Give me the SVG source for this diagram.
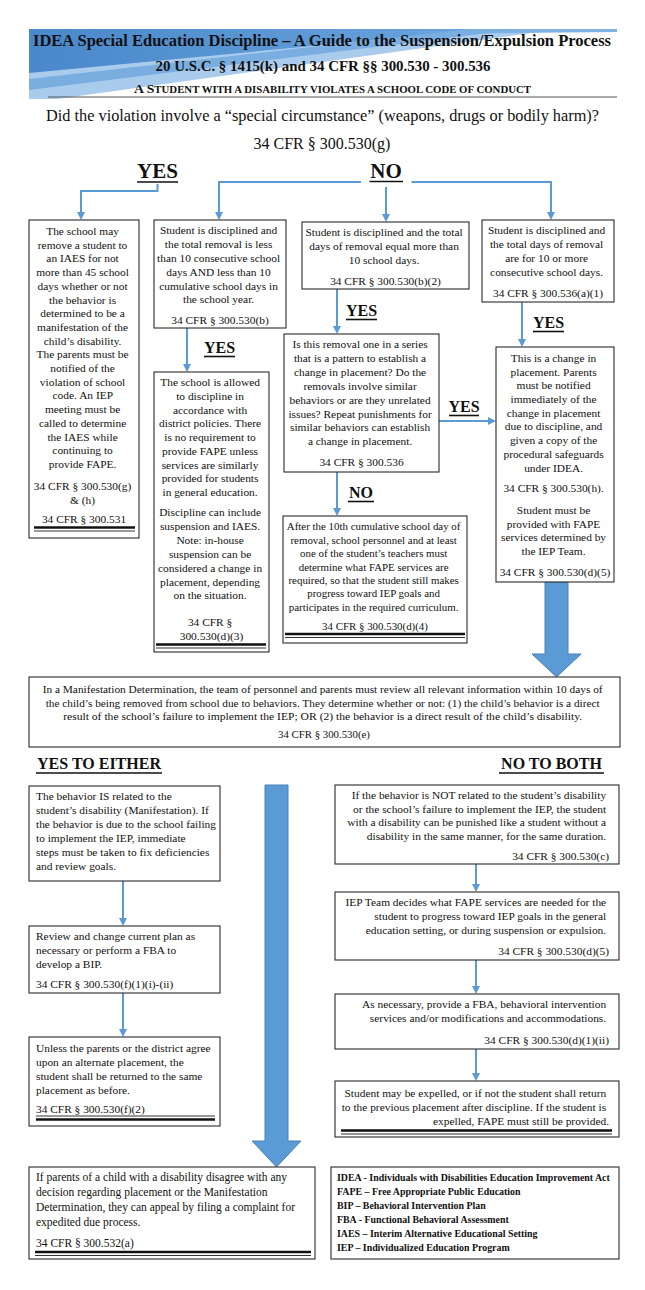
<svg xmlns="http://www.w3.org/2000/svg" width="645" height="1290" viewBox="0 0 645 1290">
<defs>
<marker id="ah" markerUnits="userSpaceOnUse" markerWidth="9" markerHeight="9" refX="3" refY="4" orient="auto"><path d="M0,0 L8,4 L0,8 z" fill="#5b9bd5"/></marker>
<linearGradient id="gDark" x1="0" y1="0" x2="1" y2="0"><stop offset="0" stop-color="#4a88cb"/><stop offset="1" stop-color="#6aa5dd"/></linearGradient>
</defs>
<style>
text{font-family:"Liberation Serif","Times New Roman",serif;fill:#111}
.t{font-size:11.4px}
.s{font-size:10.9px}
.m{text-anchor:middle}
.e{text-anchor:end}
.bx{fill:#fff;stroke:#2a2a2a;stroke-width:1.1}
.cn{fill:none;stroke:#5b9bd5;stroke-width:2;marker-end:url(#ah)}
.lb{font-weight:bold;text-anchor:middle}
.ul{stroke:#111;stroke-width:1.6}
.dk{stroke:#111;stroke-width:2.6}
.dt{stroke:#333;stroke-width:1}
.big{fill:#5b9bd5;stroke:#4a80b8;stroke-width:1}
</style>
<rect width="645" height="1290" fill="#fff"/>

<g id="header">
<rect x="29" y="29" width="588" height="70" fill="#fff"/>
<polygon points="29,29 560,29 57,99 29,99" fill="#a9cbec"/>
<polygon points="29,29 617,29 617,32 29,38" fill="#7fb0e2"/>
<polygon points="29,29 491,29 29,73" fill="url(#gDark)"/>
<polygon points="29,79 470,29 520,29 29,90" fill="#7aaee0"/>
<text x="33" y="46" font-size="16.5" font-weight="bold" textLength="578" lengthAdjust="spacingAndGlyphs">IDEA Special Education Discipline – A Guide to the Suspension/Expulsion Process</text>
<text x="155.5" y="71" font-size="14" font-weight="bold" textLength="335" lengthAdjust="spacingAndGlyphs">20 U.S.C. § 1415(k) and 34 CFR §§ 300.530 - 300.536</text>
<text x="134" y="93" font-weight="bold" textLength="397" lengthAdjust="spacingAndGlyphs"><tspan font-size="12">A S</tspan><tspan font-size="9.4">TUDENT WITH A DISABILITY VIOLATES A SCHOOL CODE OF CONDUCT</tspan></text>
<line x1="48" y1="97" x2="617" y2="97" stroke="#555" stroke-width="1.2"/>
</g>

<g id="question">
<text x="46" y="121" font-size="16.5" textLength="553" lengthAdjust="spacingAndGlyphs">Did the violation involve a “special circumstance” (weapons, drugs or bodily harm)?</text>
<text x="322" y="149" font-size="16" text-anchor="middle">34 CFR § 300.530(g)</text>
</g>

<g id="labels">
<text class="lb" x="157.5" y="178" font-size="21">YES</text>
<line class="ul" x1="137" y1="182" x2="178" y2="182"/>
<text class="lb" x="386" y="178" font-size="21">NO</text>
<line class="ul" x1="369.5" y1="181.5" x2="403" y2="181.5"/>
<text class="lb" x="219.5" y="353" font-size="16">YES</text>
<line class="ul" x1="204" y1="356.5" x2="235" y2="356.5"/>
<text class="lb" x="361.5" y="316" font-size="16">YES</text>
<line class="ul" x1="346" y1="319.5" x2="377" y2="319.5"/>
<text class="lb" x="464" y="412" font-size="16">YES</text>
<line class="ul" x1="449" y1="415.5" x2="479" y2="415.5"/>
<text class="lb" x="548.5" y="328" font-size="16">YES</text>
<line class="ul" x1="533" y1="331.5" x2="564" y2="331.5"/>
<text class="lb" x="361" y="498" font-size="16">NO</text>
<line class="ul" x1="348" y1="501.5" x2="374" y2="501.5"/>
<text class="lb" x="99" y="769" font-size="16">YES TO EITHER</text>
<line class="ul" x1="36" y1="773" x2="162" y2="773"/>
<text class="lb" x="551.5" y="769" font-size="16">NO TO BOTH</text>
<line class="ul" x1="499" y1="773" x2="604" y2="773"/>
</g>

<g id="connectors">
<path class="cn" d="M157.5,184 V191 H81 V215"/>
<path class="cn" d="M361,182 H219 V215"/>
<path class="cn" d="M386,187 V217"/>
<path class="cn" d="M411.5,182 H551 V215"/>
<path class="cn" d="M187,328 V367"/>
<path class="cn" d="M337,289 V329"/>
<path class="cn" d="M439,421 H491"/>
<path class="cn" d="M522,302 V342"/>
<path class="cn" d="M337,472 V511"/>
<path class="cn" d="M123,881 V921"/>
<path class="cn" d="M123,993 V1032"/>
<path class="cn" d="M476,864 V887"/>
<path class="cn" d="M476,960 V989"/>
<path class="cn" d="M476,1049 V1076"/>
<polygon class="big" points="545,582 568,582 568,654 581,654 556.5,677 532,654 545,654"/>
<polygon class="big" points="265,785 288,785 288,1141 301,1141 276.5,1167 252,1141 265,1141"/>
</g>

<g id="n-special">
<rect class="bx" x="29" y="220" width="110" height="318"/>
<text class="t m">
<tspan x="84" y="235">The school may</tspan>
<tspan x="84" y="248.7">remove a student to</tspan>
<tspan x="84" y="262.4">an IAES for not</tspan>
<tspan x="84" y="276.1">more than 45 school</tspan>
<tspan x="84" y="289.8">days whether or not</tspan>
<tspan x="84" y="303.5">the behavior is</tspan>
<tspan x="84" y="317.2">determined to be a</tspan>
<tspan x="84" y="330.9">manifestation of the</tspan>
<tspan x="84" y="344.6">child’s disability.</tspan>
<tspan x="84" y="358.3">The parents must be</tspan>
<tspan x="84" y="372">notified of the</tspan>
<tspan x="84" y="385.7">violation of school</tspan>
<tspan x="84" y="399.4">code. An IEP</tspan>
<tspan x="84" y="413.1">meeting must be</tspan>
<tspan x="84" y="426.8">called to determine</tspan>
<tspan x="84" y="440.5">the IAES while</tspan>
<tspan x="84" y="454.2">continuing to</tspan>
<tspan x="84" y="467.9">provide FAPE.</tspan>
<tspan x="84" y="490">34 CFR § 300.530(g)</tspan>
<tspan x="84" y="503.5">&amp; (h)</tspan>
<tspan x="84" y="522.5">34 CFR § 300.531</tspan>
</text>
<line class="dk" x1="34" y1="527.5" x2="135" y2="527.5"/>
<line class="dt" x1="34" y1="531" x2="135" y2="531"/>
</g>

<g id="n-less10">
<rect class="bx" x="154" y="220" width="132" height="108"/>
<text class="t m">
<tspan x="220" y="234">Student is disciplined and</tspan>
<tspan x="220" y="248">the total removal is less</tspan>
<tspan x="220" y="262">than 10 consecutive school</tspan>
<tspan x="220" y="275.7">days AND less than 10</tspan>
<tspan x="220" y="289.5">cumulative school days in</tspan>
<tspan x="220" y="303.3">the school year.</tspan>
<tspan x="220" y="324">34 CFR § 300.530(b)</tspan>
</text>
</g>

<g id="n-allowed">
<rect class="bx" x="154" y="372" width="115" height="280"/>
<text class="t m">
<tspan x="211.5" y="386">The school is allowed</tspan>
<tspan x="211.5" y="400">to discipline in</tspan>
<tspan x="211.5" y="413.5">accordance with</tspan>
<tspan x="211.5" y="427">district policies. There</tspan>
<tspan x="211.5" y="441">is no requirement to</tspan>
<tspan x="211.5" y="455">provide FAPE unless</tspan>
<tspan x="211.5" y="468.5">services are similarly</tspan>
<tspan x="211.5" y="482">provided for students</tspan>
<tspan x="211.5" y="496">in general education.</tspan>
<tspan x="211.5" y="516">Discipline can include</tspan>
<tspan x="211.5" y="530">suspension and IAES.</tspan>
<tspan x="211.5" y="544">Note: in-house</tspan>
<tspan x="211.5" y="558">suspension can be</tspan>
<tspan x="211.5" y="572">considered a change in</tspan>
<tspan x="211.5" y="585.5">placement, depending</tspan>
<tspan x="211.5" y="599">on the situation.</tspan>
<tspan x="211.5" y="626">34 CFR §</tspan>
<tspan x="211.5" y="640">300.530(d)(3)</tspan>
</text>
<line class="dk" x1="156" y1="644.5" x2="266" y2="644.5"/>
<line class="dt" x1="156" y1="648" x2="266" y2="648"/>
</g>

<g id="n-more10">
<rect class="bx" x="302" y="222" width="167" height="67"/>
<text class="t m">
<tspan x="385.5" y="236">Student is disciplined and the total</tspan>
<tspan x="385.5" y="250">days of removal equal more than</tspan>
<tspan x="385.5" y="263.5">10 school days.</tspan>
<tspan x="385.5" y="285">34 CFR § 300.530(b)(2)</tspan>
</text>
</g>

<g id="n-series">
<rect class="bx" x="284" y="334" width="155" height="138"/>
<text class="t m">
<tspan x="361.5" y="348">Is this removal one in a series</tspan>
<tspan x="361.5" y="362">that is a pattern to establish a</tspan>
<tspan x="361.5" y="376">change in placement? Do the</tspan>
<tspan x="361.5" y="390">removals involve similar</tspan>
<tspan x="361.5" y="403.5">behaviors or are they unrelated</tspan>
<tspan x="361.5" y="417.5">issues? Repeat punishments for</tspan>
<tspan x="361.5" y="431">similar behaviors can establish</tspan>
<tspan x="361.5" y="445">a change in placement.</tspan>
<tspan x="361.5" y="466">34 CFR § 300.536</tspan>
</text>
</g>

<g id="n-after10">
<rect class="bx" x="283" y="516" width="184" height="127"/>
<text class="s m">
<tspan x="375" y="530">After the 10th cumulative school day of</tspan>
<tspan x="375" y="543.5">removal, school personnel and at least</tspan>
<tspan x="375" y="557">one of the student’s teachers must</tspan>
<tspan x="375" y="570.5">determine what FAPE services are</tspan>
<tspan x="375" y="583.5">required, so that the student still makes</tspan>
<tspan x="375" y="597">progress toward IEP goals and</tspan>
<tspan x="375" y="610.5">participates in the required curriculum.</tspan>
<tspan x="375" y="629.5">34 CFR § 300.530(d)(4)</tspan>
</text>
<line class="dk" x1="285" y1="634" x2="465" y2="634"/>
<line class="dt" x1="285" y1="637.5" x2="465" y2="637.5"/>
</g>

<g id="n-consec10">
<rect class="bx" x="482" y="220" width="132" height="82"/>
<text class="t m">
<tspan x="548" y="234">Student is disciplined and</tspan>
<tspan x="548" y="248">the total days of removal</tspan>
<tspan x="548" y="262">are for 10 or more</tspan>
<tspan x="548" y="276">consecutive school days.</tspan>
<tspan x="548" y="297">34 CFR § 300.536(a)(1)</tspan>
</text>
</g>

<g id="n-change">
<rect class="bx" x="496" y="347" width="118" height="235"/>
<text class="t m">
<tspan x="555" y="362">This is a change in</tspan>
<tspan x="555" y="376">placement. Parents</tspan>
<tspan x="555" y="389">must be notified</tspan>
<tspan x="555" y="402.5">immediately of the</tspan>
<tspan x="555" y="417">change in placement</tspan>
<tspan x="555" y="430">due to discipline, and</tspan>
<tspan x="555" y="444">given a copy of the</tspan>
<tspan x="555" y="457.5">procedural safeguards</tspan>
<tspan x="555" y="471.5">under IDEA.</tspan>
<tspan x="555" y="492">34 CFR § 300.530(h).</tspan>
<tspan x="555" y="514">Student must be</tspan>
<tspan x="555" y="527.5">provided with FAPE</tspan>
<tspan x="555" y="541">services determined by</tspan>
<tspan x="555" y="554.5">the IEP Team.</tspan>
<tspan x="555" y="576">34 CFR § 300.530(d)(5)</tspan>
</text>
</g>

<g id="n-manifest">
<rect class="bx" x="29" y="677" width="591" height="70"/>
<text font-size="10.8" text-anchor="middle">
<tspan x="324" y="693" textLength="560" lengthAdjust="spacingAndGlyphs">In a Manifestation Determination, the team of personnel and parents must review all relevant information within 10 days of</tspan>
<tspan x="324" y="706.5" textLength="554" lengthAdjust="spacingAndGlyphs">the child’s being removed from school due to behaviors. They determine whether or not: (1) the child’s behavior is a direct</tspan>
<tspan x="324" y="720" textLength="519" lengthAdjust="spacingAndGlyphs">result of the school’s failure to implement the IEP; OR (2) the behavior is a direct result of the child’s disability.</tspan>
<tspan x="324" y="737.5">34 CFR § 300.530(e)</tspan>
</text>
</g>

<g id="n-related">
<rect class="bx" x="29" y="786" width="191" height="95"/>
<text class="t">
<tspan x="36" y="800">The behavior IS related to the</tspan>
<tspan x="36" y="814">student’s disability (Manifestation). If</tspan>
<tspan x="36" y="828">the behavior is due to the school failing</tspan>
<tspan x="36" y="842">to implement the IEP, immediate</tspan>
<tspan x="36" y="855.5">steps must be taken to fix deficiencies</tspan>
<tspan x="36" y="869.5">and review goals.</tspan>
</text>
</g>

<g id="n-review">
<rect class="bx" x="29" y="926" width="191" height="67"/>
<text class="t">
<tspan x="36" y="940">Review and change current plan as</tspan>
<tspan x="36" y="954">necessary or perform a FBA to</tspan>
<tspan x="36" y="967.5">develop a BIP.</tspan>
<tspan x="36" y="988">34 CFR § 300.530(f)(1)(i)-(ii)</tspan>
</text>
</g>

<g id="n-return">
<rect class="bx" x="29" y="1037" width="191" height="89"/>
<text class="t">
<tspan x="36" y="1052">Unless the parents or the district agree</tspan>
<tspan x="36" y="1066">upon an alternate placement, the</tspan>
<tspan x="36" y="1080">student shall be returned to the same</tspan>
<tspan x="36" y="1093.5">placement as before.</tspan>
<tspan x="36" y="1113">34 CFR § 300.530(f)(2)</tspan>
</text>
<line class="dt" x1="36" y1="1116" x2="215" y2="1116"/>
<line class="dk" x1="36" y1="1119.5" x2="215" y2="1119.5"/>
</g>

<g id="n-appeal">
<rect class="bx" x="29" y="1167" width="286" height="92"/>
<text font-size="11.5">
<tspan x="36" y="1181">If parents of a child with a disability disagree with any</tspan>
<tspan x="36" y="1196">decision regarding placement or the Manifestation</tspan>
<tspan x="36" y="1211">Determination, they can appeal by filing a complaint for</tspan>
<tspan x="36" y="1226">expedited due process.</tspan>
<tspan x="36" y="1247">34 CFR § 300.532(a)</tspan>
</text>
<line class="dk" x1="35" y1="1252" x2="311" y2="1252"/>
<line class="dt" x1="35" y1="1255.5" x2="311" y2="1255.5"/>
</g>

<g id="n-notrelated">
<rect class="bx" x="335" y="785" width="284" height="79"/>
<text class="t e">
<tspan x="609" y="799">If the behavior is NOT related to the student’s disability</tspan>
<tspan x="609" y="812.5">or the school’s failure to implement the IEP, the student</tspan>
<tspan x="609" y="826">with a disability can be punished like a student without a</tspan>
<tspan x="609" y="840">disability in the same manner, for the same duration.</tspan>
<tspan x="609" y="860">34 CFR § 300.530(c)</tspan>
</text>
</g>

<g id="n-iepteam">
<rect class="bx" x="335" y="892" width="284" height="68"/>
<text class="t e">
<tspan x="609" y="906">IEP Team decides what FAPE services are needed for the</tspan>
<tspan x="609" y="920">student to progress toward IEP goals in the general</tspan>
<tspan x="609" y="934">education setting, or during suspension or expulsion.</tspan>
<tspan x="609" y="954.5">34 CFR § 300.530(d)(5)</tspan>
</text>
</g>

<g id="n-fba">
<rect class="bx" x="335" y="994" width="284" height="55"/>
<text class="t e">
<tspan x="609" y="1008">As necessary, provide a FBA, behavioral intervention</tspan>
<tspan x="609" y="1022">services and/or modifications and accommodations.</tspan>
<tspan x="609" y="1044">34 CFR § 300.530(d)(1)(ii)</tspan>
</text>
</g>

<g id="n-expel">
<rect class="bx" x="335" y="1081" width="284" height="56"/>
<text class="t e">
<tspan x="609" y="1097">Student may be expelled, or if not the student shall return</tspan>
<tspan x="609" y="1111">to the previous placement after discipline. If the student is</tspan>
<tspan x="609" y="1125">expelled, FAPE must still be provided.</tspan>
</text>
<line class="dk" x1="341" y1="1130.5" x2="612" y2="1130.5"/>
<line class="dt" x1="341" y1="1134" x2="612" y2="1134"/>
</g>

<g id="n-legend">
<rect class="bx" x="331" y="1167" width="288" height="92"/>
<text font-size="9.9" font-weight="bold">
<tspan x="337" y="1181">IDEA - Individuals with Disabilities Education Improvement Act</tspan>
<tspan x="337" y="1195">FAPE – Free Appropriate Public Education</tspan>
<tspan x="337" y="1209">BIP – Behavioral Intervention Plan</tspan>
<tspan x="337" y="1223">FBA - Functional Behavioral Assessment</tspan>
<tspan x="337" y="1237">IAES – Interim Alternative Educational Setting</tspan>
<tspan x="337" y="1251">IEP – Individualized Education Program</tspan>
</text>
</g>
</svg>
